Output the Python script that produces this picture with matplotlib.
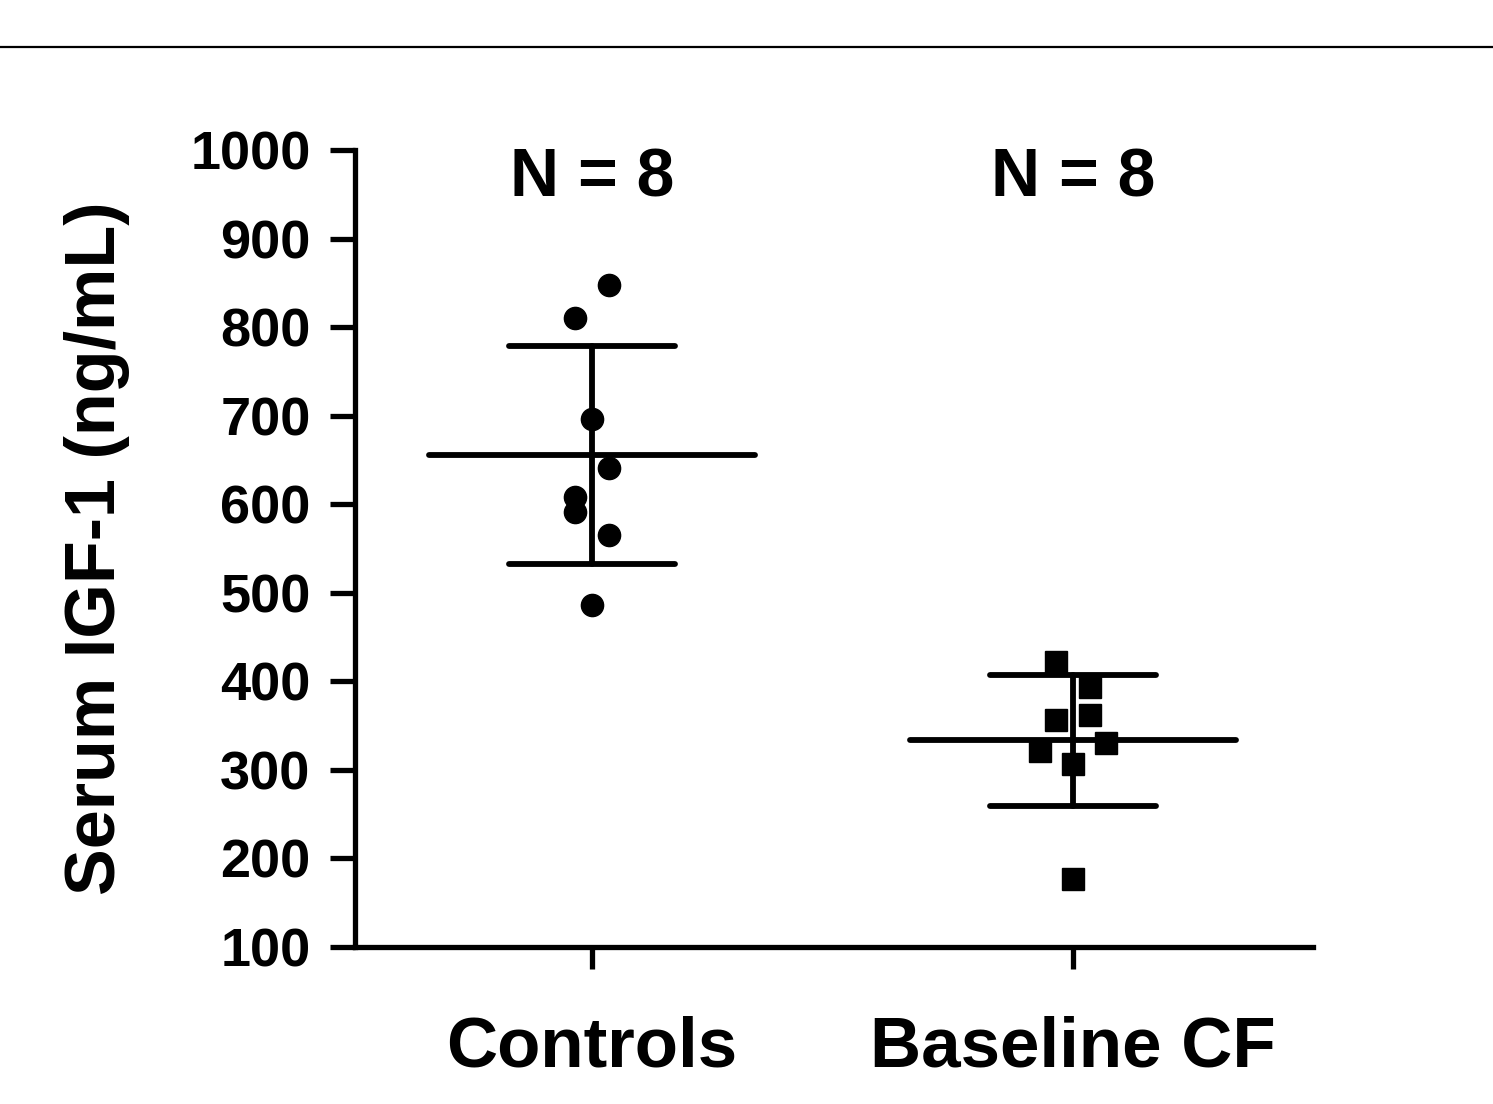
import numpy as np
import matplotlib
matplotlib.use("Agg")
import matplotlib.pyplot as plt
from matplotlib.lines import Line2D

plt.rcParams['font.family'] = ['Liberation Sans', 'DejaVu Sans']
plt.rcParams['font.weight'] = 'bold'

categories = ["Controls", "Baseline CF"]
controls = [848, 810, 696, 641, 608, 591, 565, 486]
controls_dx = [0.035, -0.035, 0.0, 0.035, -0.035, -0.035, 0.035, 0.0]
cf = [422, 394, 356, 362, 321, 330, 307, 177]
cf_dx = [-0.035, 0.035, -0.035, 0.035, -0.068, 0.068, 0.0, 0.0]
n_labels = ["N = 8", "N = 8"]
yticks = [100, 200, 300, 400, 500, 600, 700, 800, 900, 1000]

fig = plt.figure(figsize=(14.93, 11.04), dpi=100)
ax = fig.add_axes([0.2378, 0.1422, 0.8794 - 0.2378, 0.8641 - 0.1422])

groups = [(controls, controls_dx, 'o', 16), (cf, cf_dx, 's', 16.5)]
for i, (vals, dx, mk, ms) in enumerate(groups):
    vals = np.array(vals, dtype=float)
    x = i + np.array(dx)
    ax.plot(x, vals, linestyle='none', marker=mk, markersize=ms,
            color='black', zorder=3)
    m = vals.mean()
    sd = vals.std(ddof=1)
    kw = dict(color='black', lw=4.2, solid_capstyle='round', zorder=2)
    ax.plot([i - 0.339, i + 0.339], [m, m], **kw)
    ax.plot([i - 0.172, i + 0.172], [m + sd, m + sd], **kw)
    ax.plot([i - 0.172, i + 0.172], [m - sd, m - sd], **kw)
    ax.plot([i, i], [m - sd, m + sd], **kw)
    ax.text(i, 947, n_labels[i], ha='center', va='baseline',
            fontsize=49, fontweight='bold')

ax.set_xlim(-0.493, 1.499)
ax.set_ylim(100, 1000)
ax.set_yticks(yticks)
ax.set_xticks([0, 1])
ax.set_xticklabels(categories)
for s in ['top', 'right']:
    ax.spines[s].set_visible(False)
for s in ['left', 'bottom']:
    ax.spines[s].set_linewidth(3.8)
ax.tick_params(axis='y', length=18, width=3.8, labelsize=39, pad=14)
ax.tick_params(axis='x', length=16, width=3.8, labelsize=51, pad=33)
for lab in ax.get_xticklabels() + ax.get_yticklabels():
    lab.set_fontweight('bold')
ax.set_ylabel("Serum IGF-1 (ng/mL)", fontsize=50.5, fontweight='bold', labelpad=43)

fig.add_artist(Line2D([0, 1], [1 - 47 / 1104, 1 - 47 / 1104],
                      transform=fig.transFigure, color='black', lw=1.6))

fig.savefig("out.png", dpi=100)
